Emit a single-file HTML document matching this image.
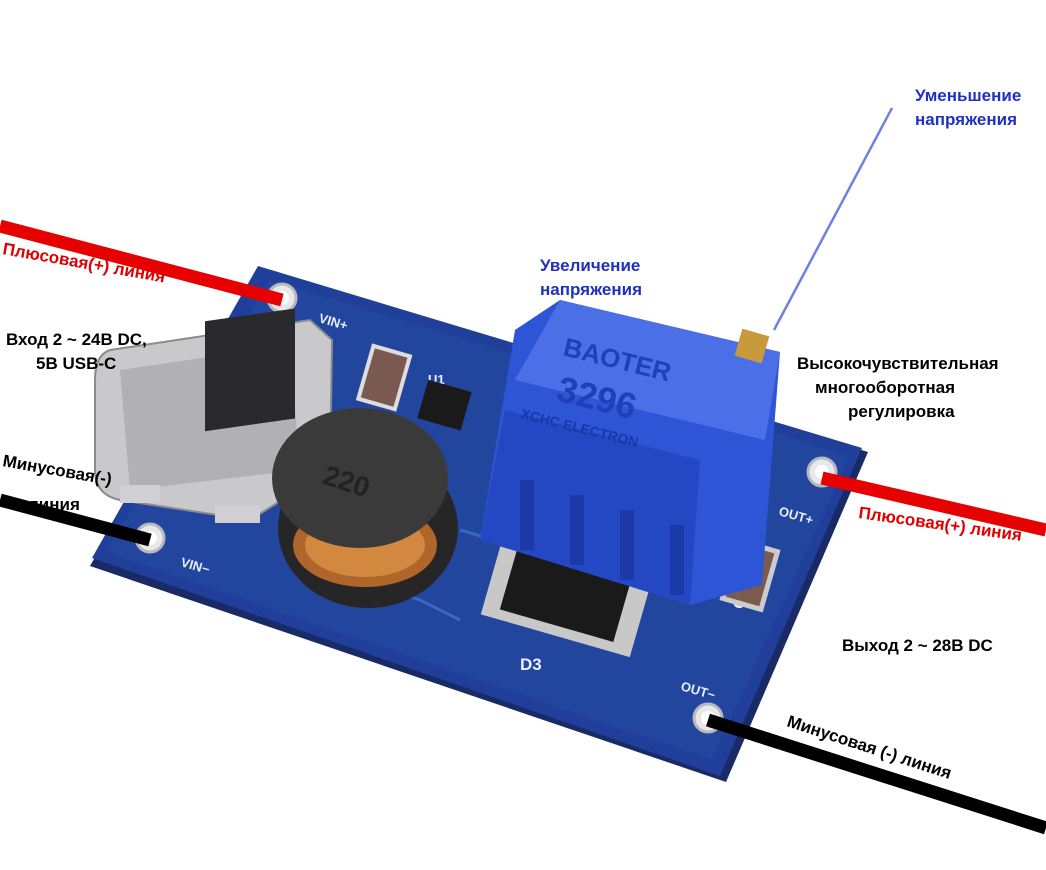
<!DOCTYPE html>
<html><head><meta charset="utf-8"><style>
body{margin:0;background:#fff;width:1046px;height:870px;overflow:hidden}
svg{display:block}
text{font-family:"Liberation Sans",sans-serif;font-weight:bold;font-size:17px}
</style></head><body>
<svg width="1046" height="870" viewBox="0 0 1046 870">
<polygon points="262,268 868,452 726,782 90,566" fill="#1a2a66"/>
<polygon points="258,266 862,448 720,776 92,558" fill="#1f3f9a"/>
<polygon points="270,280 850,456 712,760 105,552" fill="#22479f" opacity="0.9"/>
<polyline points="460,530 700,600 760,540" fill="none" stroke="#3a66c6" stroke-width="3"/>
<polyline points="300,560 420,600 460,620" fill="none" stroke="#3a66c6" stroke-width="3"/>
<g fill="#e8e8ea" stroke="#b8b8c0" stroke-width="3">
<circle cx="282" cy="298" r="14"/><circle cx="822" cy="472" r="14"/>
<circle cx="150" cy="538" r="14"/><circle cx="708" cy="718" r="14"/>
</g>
<g fill="#fff"><circle cx="282" cy="298" r="7"/><circle cx="822" cy="472" r="7"/><circle cx="150" cy="538" r="7"/><circle cx="708" cy="718" r="7"/></g>
<g fill="#e8eefc">
<text x="318" y="322" transform="rotate(16 318 322)" style="font-size:13px">VIN+</text>
<text x="180" y="566" transform="rotate(16 180 566)" style="font-size:13px">VIN−</text>
<text x="778" y="515" transform="rotate(16 778 515)" style="font-size:13px">OUT+</text>
<text x="680" y="690" transform="rotate(16 680 690)" style="font-size:13px">OUT−</text>
<text x="520" y="670" style="font-size:17px">D3</text>
<text x="742" y="610" transform="rotate(-70 742 610)" style="font-size:15px">C2</text>
<text x="428" y="384" style="font-size:13px">U1</text>
</g>
<path d="M110,350 L310,320 L332,340 L330,470 L250,520 L120,500 Q95,495 95,470 L95,380 Q95,355 110,350Z" fill="#c9c9cc" stroke="#8a8a90" stroke-width="2"/>
<path d="M120,370 L290,345 L300,470 L130,490Z" fill="#b0b0b5"/>
<rect x="205" y="350" width="90" height="110" fill="#2a2a2e" transform="skewY(-8)"/>
<rect x="120" y="485" width="40" height="18" fill="#d0d0d4"/>
<rect x="215" y="505" width="45" height="18" fill="#d0d0d4"/>
<rect x="365" y="350" width="38" height="55" fill="#7a5a50" stroke="#ddd" stroke-width="4" transform="rotate(16 384 378)"/>
<rect x="422" y="385" width="45" height="40" fill="#1a1a1a" transform="rotate(16 444 405)"/>
<rect x="730" y="545" width="40" height="60" fill="#7b5b4b" stroke="#ccc" stroke-width="5" transform="rotate(16 750 575)"/>
<ellipse cx="368" cy="528" rx="90" ry="80" fill="#262626"/>
<ellipse cx="365" cy="545" rx="72" ry="42" fill="#b0652a"/>
<ellipse cx="365" cy="545" rx="60" ry="32" fill="#d2883e"/>
<ellipse cx="360" cy="478" rx="88" ry="70" fill="#3a3a3a"/>
<text x="325" y="490" fill="#222" transform="rotate(18 345 475)" style="font-size:28px">220</text>
<rect x="488" y="565" width="155" height="72" fill="#c8c8c8" transform="rotate(16 565 600)"/>
<rect x="505" y="565" width="118" height="62" fill="#1a1a1a" transform="rotate(16 565 600)"/>
<polygon points="560,300 780,352 762,585 690,605 480,540 515,330" fill="#2e55d6"/>
<polygon points="560,300 780,352 765,440 515,380" fill="#4a6fe6"/>
<polygon points="480,540 690,605 700,460 505,410" fill="#2447c4"/>
<g fill="#1b3aa8"><rect x="520" y="480" width="14" height="70"/><rect x="570" y="495" width="14" height="70"/><rect x="620" y="510" width="14" height="70"/><rect x="670" y="525" width="14" height="70"/></g>
<text x="562" y="355" fill="#2040b8" transform="rotate(14 562 355)" style="font-size:26px">BAOTER</text>
<text x="555" y="400" fill="#2040b8" transform="rotate(14 555 400)" style="font-size:36px">3296</text>
<text x="520" y="418" fill="#1838a8" transform="rotate(14 520 418)" style="font-size:14px">XCHC ELECTRON</text>
<rect x="738" y="332" width="28" height="28" fill="#c99a3c" transform="rotate(16 752 346)"/>
<line x1="0" y1="226" x2="282" y2="300" stroke="#e60000" stroke-width="13"/>
<line x1="822" y1="478" x2="1046" y2="530" stroke="#e60000" stroke-width="13"/>
<line x1="0" y1="500" x2="150" y2="540" stroke="#000" stroke-width="13"/>
<line x1="708" y1="720" x2="1046" y2="828" stroke="#000" stroke-width="13"/>
<line x1="892" y1="108" x2="774" y2="330" stroke="#7080e0" stroke-width="2.5"/>
<text x="2" y="254" fill="#e00000" transform="rotate(10 2 254)">Плюсовая(+) линия</text>
<text x="6" y="345" fill="#000">Вход 2 ~ 24В DC,</text>
<text x="36" y="369" fill="#000">5В USB-C</text>
<text x="2" y="466" fill="#000" transform="rotate(10 2 466)">Минусовая(-)</text>
<text x="28" y="510" fill="#000">линия</text>
<text x="540" y="271" fill="#2030c0">Увеличение</text>
<text x="540" y="295" fill="#2030c0">напряжения</text>
<text x="915" y="101" fill="#2030c0">Уменьшение</text>
<text x="915" y="125" fill="#2030c0">напряжения</text>
<text x="797" y="369" fill="#000">Высокочувствительная</text>
<text x="815" y="393" fill="#000">многооборотная</text>
<text x="848" y="417" fill="#000">регулировка</text>
<text x="858" y="518" fill="#e00000" transform="rotate(8 858 518)">Плюсовая(+) линия</text>
<text x="842" y="651" fill="#000">Выход 2 ~ 28В DC</text>
<text x="786" y="726" fill="#000" transform="rotate(18 786 726)">Минусовая (-) линия</text>
</svg>
</body></html>
